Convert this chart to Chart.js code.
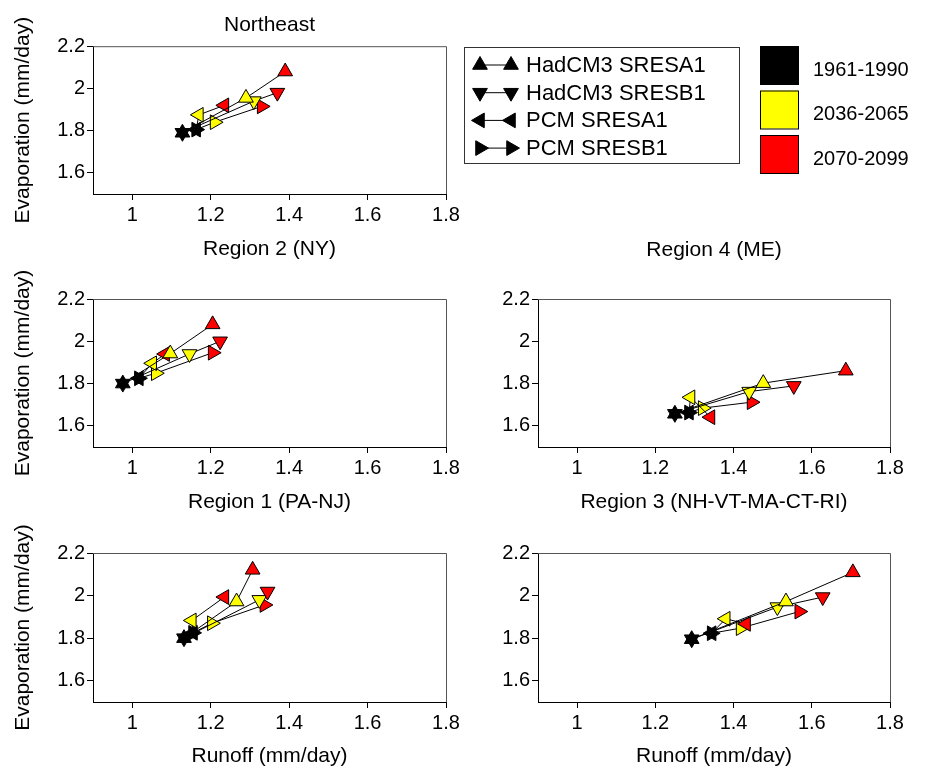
<!DOCTYPE html>
<html>
<head>
<meta charset="utf-8">
<title>Northeast runoff vs evaporation</title>
<script src="https://cdn.jsdelivr.net/npm/chart.js@4.4.1/dist/chart.umd.min.js"></script>
<style>
  html, body { margin: 0; padding: 0; background: #fff; overflow: hidden; }
  canvas { position: absolute; }
</style>
</head>
<body>
<canvas id="pNY" width="927" height="272" style="left:0;top:0"></canvas>
<canvas id="pPANJ" width="463" height="260" style="left:0;top:265px"></canvas>
<canvas id="pNE" width="457" height="260" style="left:470px;top:265px"></canvas>
<canvas id="pAll" width="463" height="254" style="left:0;top:515px"></canvas>
<canvas id="pME" width="457" height="254" style="left:470px;top:515px"></canvas>
<script>
// series (one per model / scenario), each has 3 periods
const seriesNames = ["HadCM3 SRESA1", "HadCM3 SRESB1", "PCM SRESA1", "PCM SRESB1"];
const markerRotation = [0, 180, 270, 90]; // up, down, left, right triangles
const periods = ["1961-1990", "2036-2065", "2070-2099"];
const periodColors = ["#000000", "#ffff00", "#ff0000"];

const xTicks = [1, 1.2, 1.4, 1.6, 1.8];
const yTicks = [1.6, 1.8, 2, 2.2];

// Region 2 (NY)
const nyRunoff = [[1.128, 1.29, 1.39], [1.128, 1.31, 1.37], [1.163, 1.17, 1.235], [1.163, 1.21, 1.33]];
const nyEvap = [[1.79, 1.955, 2.08], [1.79, 1.94, 1.98], [1.805, 1.875, 1.92], [1.805, 1.84, 1.915]];

// Region 1 (PA-NJ)
const panjRunoff = [[0.976, 1.097, 1.205], [0.976, 1.146, 1.224], [1.017, 1.051, 1.084], [1.017, 1.06, 1.205]];
const panjEvap = [[1.80, 1.942, 2.08], [1.80, 1.94, 2.0], [1.825, 1.896, 1.94], [1.825, 1.849, 1.946]];

// Region 3 (NH-VT-MA-CT-RI)
const neRunoff = [[1.25, 1.476, 1.687], [1.25, 1.44, 1.554], [1.286, 1.29, 1.341], [1.286, 1.321, 1.446]];
const neEvap = [[1.657, 1.802, 1.861], [1.657, 1.762, 1.789], [1.663, 1.735, 1.641], [1.663, 1.684, 1.712]];

// bottom left
const allRunoff = [[1.132, 1.266, 1.307], [1.132, 1.324, 1.345], [1.155, 1.152, 1.235], [1.155, 1.203, 1.337]];
const allEvap = [[1.80, 1.972, 2.121], [1.80, 1.98, 2.019], [1.825, 1.883, 1.993], [1.825, 1.87, 1.956]];

// bottom right
const meRunoff = [[1.293, 1.534, 1.705], [1.293, 1.512, 1.628], [1.344, 1.38, 1.432], [1.344, 1.418, 1.568]];
const meEvap = [[1.795, 1.972, 2.109], [1.795, 1.946, 1.993], [1.823, 1.891, 1.867], [1.823, 1.847, 1.925]];

Chart.defaults.font.family = "'Liberation Sans', Arial, sans-serif";
Chart.defaults.color = "#000";

const FONT_TICK = 20;
const FONT_TITLE = 21;

// box round the plot: top and right edges in grey
const framePlugin = {
  id: "frame",
  afterDraw(chart) {
    const { ctx, chartArea: a } = chart;
    ctx.save();
    ctx.strokeStyle = "#555";
    ctx.lineWidth = 1;
    ctx.beginPath();
    ctx.moveTo(a.left, a.top + 0.5);
    ctx.lineTo(a.right + 0.5, a.top + 0.5);
    ctx.lineTo(a.right + 0.5, a.bottom);
    ctx.stroke();
    ctx.restore();
  }
};

// legends in the top right corner
const legendPlugin = {
  id: "sideLegend",
  afterDraw(chart) {
    const ctx = chart.ctx;
    ctx.save();
    ctx.strokeStyle = "#333";
    ctx.lineWidth = 1;
    ctx.strokeRect(464.5, 47.5, 275, 116);

    ctx.font = "22px 'Liberation Sans', Arial, sans-serif";
    ctx.textBaseline = "middle";
    ctx.textAlign = "left";
    seriesNames.forEach((name, i) => {
      const y = 65 + i * 27.7;
      ctx.strokeStyle = "#000";
      ctx.beginPath();
      ctx.moveTo(480, y);
      ctx.lineTo(511, y);
      ctx.stroke();
      ctx.fillStyle = "#000";
      [480, 511].forEach(x => {
        Chart.helpers.drawPoint(ctx, { pointStyle: "triangle", radius: 8.5, rotation: markerRotation[i], borderWidth: 1 }, x, y);
      });
      ctx.fillText(name, 526, y + 1);
    });

    ctx.font = "20px 'Liberation Sans', Arial, sans-serif";
    periods.forEach((p, i) => {
      const top = 46 + i * 44.5;
      ctx.fillStyle = periodColors[i];
      ctx.fillRect(760, top, 38, 38);
      ctx.strokeStyle = "#000";
      ctx.strokeRect(760.5, top + 0.5, 38, 38);
      ctx.fillStyle = "#000";
      ctx.fillText(p, 813, top + 24);
    });

    ctx.font = FONT_TITLE + "px 'Liberation Sans', Arial, sans-serif";
    ctx.textAlign = "center";
    ctx.fillText("Region 4 (ME)", 714, 250);
    ctx.restore();
  }
};

function makePanel(id, runoff, evap, xTitle, opts) {
  const datasets = seriesNames.map((name, i) => ({
    label: name,
    data: runoff[i].map((x, j) => ({ x: x, y: evap[i][j] })),
    showLine: true,
    borderColor: "#000",
    borderWidth: 1,
    pointStyle: "triangle",
    pointRotation: markerRotation[i],
    pointRadius: 8.5,
    pointHoverRadius: 8.5,
    pointBackgroundColor: periodColors,
    pointBorderColor: "#000",
    pointBorderWidth: 1
  }));

  const plugins = [framePlugin];
  if (opts.legend) plugins.push(legendPlugin);

  return new Chart(document.getElementById(id), {
    type: "scatter",
    data: { datasets },
    plugins,
    options: {
      responsive: false,
      animation: false,
      layout: { padding: opts.padding },
      plugins: {
        legend: { display: false },
        tooltip: { enabled: false },
        title: opts.title ? {
          display: true,
          text: opts.title,
          fullSize: false,
          font: { size: FONT_TITLE, weight: "normal" },
          padding: { top: 13, bottom: 8 }
        } : { display: false }
      },
      scales: {
        x: {
          type: "linear",
          min: 0.9,
          max: 1.8,
          afterBuildTicks: s => { s.ticks = xTicks.map(v => ({ value: v })); },
          afterFit: s => { s.height = opts.xHeight; },
          ticks: {
            font: { size: FONT_TICK },
            padding: 3,
            maxRotation: 0,
            callback: v => String(Math.round(v * 10) / 10)
          },
          grid: { drawOnChartArea: false, tickLength: 6, color: "#000" },
          border: { color: "#000", width: 1 },
          title: {
            display: true,
            text: xTitle,
            font: { size: FONT_TITLE },
            padding: { top: 0, bottom: 0 }
          }
        },
        y: {
          type: "linear",
          min: 1.5,
          max: 2.2,
          afterBuildTicks: s => { s.ticks = yTicks.map(v => ({ value: v })); },
          afterFit: s => { s.width = opts.yWidth; },
          ticks: {
            font: { size: FONT_TICK },
            padding: 2,
            callback: v => String(Math.round(v * 10) / 10)
          },
          grid: { drawOnChartArea: false, tickLength: 6, color: "#000" },
          border: { color: "#000", width: 1 },
          title: {
            display: opts.yTitle,
            text: "Evaporation (mm/day)",
            font: { size: FONT_TITLE },
            padding: { top: 11, bottom: 0 }
          }
        }
      }
    }
  });
}

makePanel("pNY", nyRunoff, nyEvap, "Region 2 (NY)", {
  title: "Northeast", legend: true, yTitle: true,
  padding: { left: 0, top: 0, right: 481, bottom: 10 }, yWidth: 93, xHeight: 68
});
makePanel("pPANJ", panjRunoff, panjEvap, "Region 1 (PA-NJ)", {
  yTitle: true,
  padding: { left: 0, top: 34, right: 17, bottom: 10 }, yWidth: 93, xHeight: 68
});
makePanel("pNE", neRunoff, neEvap, "Region 3 (NH-VT-MA-CT-RI)", {
  yTitle: false,
  padding: { left: 0, top: 34, right: 37, bottom: 10 }, yWidth: 68, xHeight: 68
});
makePanel("pAll", allRunoff, allEvap, "Runoff (mm/day)", {
  yTitle: true,
  padding: { left: 0, top: 38, right: 17, bottom: 0 }, yWidth: 93, xHeight: 67
});
makePanel("pME", meRunoff, meEvap, "Runoff (mm/day)", {
  yTitle: false,
  padding: { left: 0, top: 38, right: 37, bottom: 0 }, yWidth: 68, xHeight: 67
});
</script>
</body>
</html>
